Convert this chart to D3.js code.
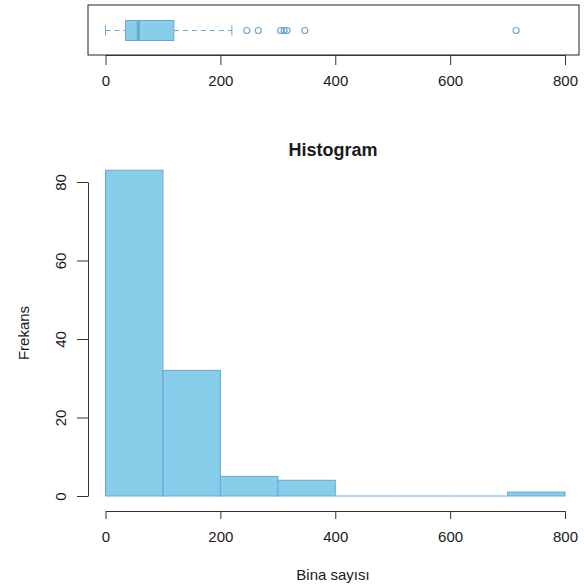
<!DOCTYPE html>
<html>
<head>
<meta charset="utf-8">
<script src="https://cdn.jsdelivr.net/npm/d3@7"></script>
<style>
  body { margin: 0; background: #fff; }
  text { font-family: "Liberation Sans", Arial, sans-serif; fill: #1a1a1a; }
</style>
</head>
<body>
<div id="chart"></div>
<script>
// histogram bins (Bina sayisi) and counts
const binEdges = [0, 100, 200, 300, 400, 500, 600, 700, 800];
const counts = [83, 32, 5, 4, 0, 0, 0, 1];
const xTicks = [0, 200, 400, 600, 800];
const yTicks = [0, 20, 40, 60, 80];

// boxplot stats: lower whisker, Q1, median, Q3, upper whisker
const boxStats = [0, 35, 57, 119, 220];
const outliers = [246, 266, 305, 311, 316, 347, 715];

const width = 584, height = 585;
const fill = "#87CEEB", border = "#6CA6CD";

var svg = d3.select("#chart")
  .append("svg")
    .attr("width", width)
    .attr("height", height);

var x = d3.scaleLinear().domain([0, 800]).range([105.5, 565]);
var y = d3.scaleLinear().domain([0, 80]).range([496, 182]);

// ---- boxplot panel ----
svg.append("rect")
  .attr("x", 88).attr("y", 5).attr("width", 491).attr("height", 50)
  .attr("fill", "none").attr("stroke", "#222").attr("stroke-width", 1);

var by = 30.5, bh = 20;
var bp = svg.append("g");
// whiskers
bp.append("line")
  .attr("x1", x(boxStats[0])).attr("x2", x(boxStats[1]))
  .attr("y1", by).attr("y2", by)
  .attr("stroke", border).attr("stroke-dasharray", "5,4");
bp.append("line")
  .attr("x1", x(boxStats[3])).attr("x2", x(boxStats[4]))
  .attr("y1", by).attr("y2", by)
  .attr("stroke", border).attr("stroke-dasharray", "5,4");
[boxStats[0], boxStats[4]].forEach(function(v) {
  bp.append("line")
    .attr("x1", x(v)).attr("x2", x(v))
    .attr("y1", by - 5).attr("y2", by + 5)
    .attr("stroke", border);
});
bp.append("rect")
  .attr("x", x(boxStats[1])).attr("y", by - bh / 2)
  .attr("width", x(boxStats[3]) - x(boxStats[1])).attr("height", bh)
  .attr("fill", fill).attr("stroke", border);
bp.append("line")
  .attr("x1", x(boxStats[2])).attr("x2", x(boxStats[2]))
  .attr("y1", by - bh / 2).attr("y2", by + bh / 2)
  .attr("stroke", border).attr("stroke-width", 3);
bp.selectAll(".out")
  .data(outliers)
  .enter()
  .append("circle")
    .attr("cx", d => x(d)).attr("cy", by).attr("r", 3)
    .attr("fill", "none").attr("stroke", border).attr("stroke-width", 1.2);

var ta = svg.append("g").attr("transform", "translate(0,55)")
  .call(d3.axisBottom(x).tickValues(xTicks).tickSize(10).tickPadding(10).tickSizeOuter(0));
ta.select(".domain").attr("stroke", "#333");
ta.selectAll(".tick line").attr("stroke", "#333");
ta.selectAll("text").style("font-size", "15px").attr("fill", "#1a1a1a");

// ---- histogram ----
var bins = counts.map((c, i) => ({ x0: binEdges[i], x1: binEdges[i + 1], n: c }));

svg.selectAll(".bar")
  .data(bins.filter(d => d.n > 0))
  .enter()
  .append("rect")
    .attr("x", d => x(d.x0))
    .attr("y", d => y(d.n))
    .attr("width", d => x(d.x1) - x(d.x0))
    .attr("height", d => y(0) - y(d.n))
    .attr("fill", fill)
    .attr("stroke", border)
    .attr("stroke-width", 1);

// empty bins still show their outline at zero
svg.selectAll(".empty")
  .data(bins.filter(d => d.n == 0))
  .enter()
  .append("line")
    .attr("x1", d => x(d.x0))
    .attr("x2", d => x(d.x1))
    .attr("y1", y(0)).attr("y2", y(0))
    .attr("stroke", "#9cc8e8")
    .attr("stroke-width", 1.5);

var xa = svg.append("g").attr("transform", "translate(0,511)")
  .call(d3.axisBottom(x).tickValues(xTicks).tickSize(8).tickPadding(12).tickSizeOuter(0));
xa.select(".domain").attr("stroke", "#333");
xa.selectAll(".tick line").attr("stroke", "#333");
xa.selectAll("text").style("font-size", "15px").attr("fill", "#1a1a1a");

var ya = svg.append("g").attr("transform", "translate(88,0)")
  .call(d3.axisLeft(y).tickValues(yTicks).tickSize(11).tickSizeOuter(0));
ya.select(".domain").attr("stroke", "#333");
ya.selectAll(".tick line").attr("stroke", "#333");
ya.selectAll("text").remove();
ya.selectAll(".tick").append("text")
  .attr("transform", "translate(-27,0) rotate(-90)")
  .attr("text-anchor", "middle")
  .attr("dy", "0.35em")
  .style("font-size", "15px")
  .text(d => d);

svg.append("text")
  .attr("x", 333).attr("y", 156)
  .attr("text-anchor", "middle")
  .style("font-size", "18px").style("font-weight", "bold")
  .text("Histogram");

svg.append("text")
  .attr("x", 333).attr("y", 580)
  .attr("text-anchor", "middle")
  .style("font-size", "15px")
  .text("Bina sayısı");

svg.append("text")
  .attr("transform", "translate(24,333) rotate(-90)")
  .attr("text-anchor", "middle")
  .attr("dy", "0.35em")
  .style("font-size", "15px")
  .text("Frekans");
</script>
</body>
</html>
